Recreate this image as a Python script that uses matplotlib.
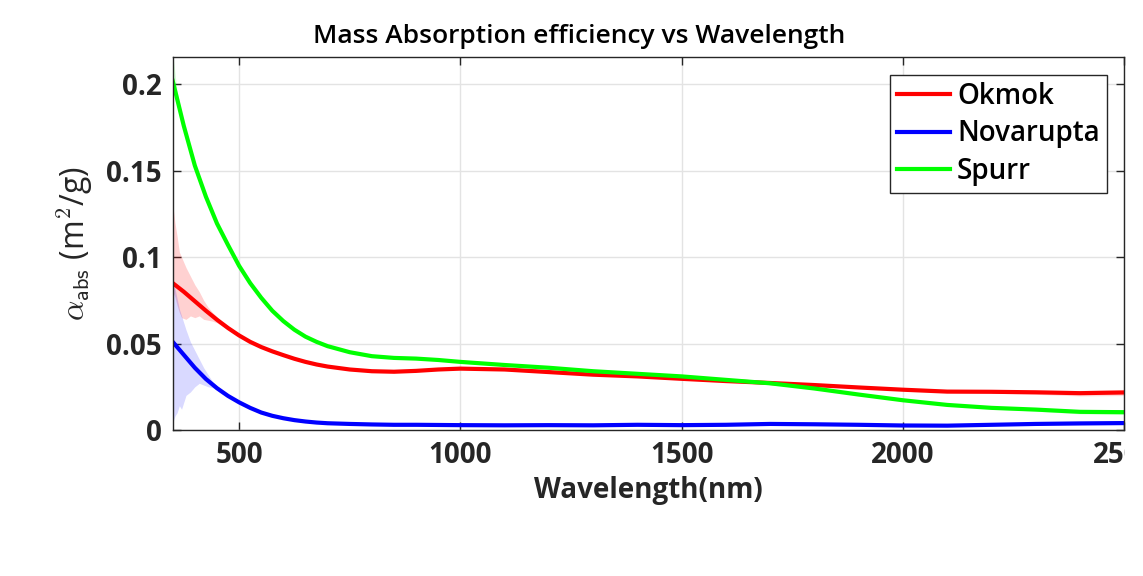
import numpy as np
import matplotlib as mpl
mpl.use('Agg')
from matplotlib import pyplot as plt
from matplotlib.transforms import Bbox

plt.rcParams['font.family'] = ['Open Sans', 'DejaVu Sans']
plt.rcParams['mathtext.fontset'] = 'cm'

# длина волны, нм
wl = [350, 375, 400, 425, 450, 475, 500, 525, 550, 575, 600, 625, 650, 675,
      700, 750, 800, 850, 900, 950, 1000, 1100, 1200, 1300, 1400, 1500, 1600,
      1700, 1800, 1900, 2000, 2100, 2200, 2300, 2400, 2500]

# массовая эффективность поглощения, м^2/г
okmok = [0.085, 0.080, 0.0745, 0.069, 0.0638, 0.059, 0.0547, 0.051, 0.048,
         0.0455, 0.0433, 0.0412, 0.0394, 0.0379, 0.0367, 0.035, 0.034, 0.0337,
         0.0342, 0.035, 0.0355, 0.035, 0.0335, 0.032, 0.031, 0.0296, 0.0283,
         0.0272, 0.026, 0.0246, 0.0233, 0.0222, 0.0221, 0.0218, 0.0213,
         0.0217]
novarupta = [0.051, 0.0435, 0.036, 0.0295, 0.0242, 0.0197, 0.016, 0.0128,
             0.0101, 0.0082, 0.0068, 0.0057, 0.0049, 0.0043, 0.0039, 0.0035,
             0.0032, 0.003, 0.003, 0.0029, 0.0028, 0.0027, 0.0028, 0.0027,
             0.003, 0.0028, 0.003, 0.0035, 0.0033, 0.003, 0.0026, 0.0025,
             0.003, 0.0035, 0.0038, 0.004]
spurr = [0.202, 0.176, 0.153, 0.135, 0.1195, 0.107, 0.095, 0.085, 0.0765,
         0.069, 0.063, 0.058, 0.054, 0.051, 0.0485, 0.045, 0.0427, 0.0417,
         0.0413, 0.0405, 0.0394, 0.0376, 0.036, 0.034, 0.0325, 0.031, 0.029,
         0.027, 0.024, 0.0205, 0.0172, 0.0145, 0.0128, 0.0118, 0.0105, 0.0103]

# разброс у коротких волн
band_wl = [350, 355, 360, 365, 370, 380, 390, 400, 410, 420, 430, 440, 450,
           460, 470, 480]
okmok_hi = [0.131, 0.120, 0.112, 0.103, 0.100, 0.094, 0.089, 0.084, 0.080,
            0.075, 0.071, 0.068, 0.0655, 0.063, 0.061, 0.0585]
okmok_lo = [0.080, 0.077, 0.072, 0.068, 0.065, 0.064, 0.066, 0.065, 0.066,
            0.064, 0.0635, 0.063, 0.062, 0.0605, 0.059, 0.0575]
nova_hi = [0.085, 0.082, 0.076, 0.070, 0.066, 0.058, 0.051, 0.046, 0.041,
           0.036, 0.032, 0.028, 0.0255, 0.023, 0.021, 0.0193]
nova_lo = [0.004, 0.008, 0.010, 0.014, 0.012, 0.020, 0.022, 0.025, 0.027,
           0.026, 0.025, 0.0245, 0.023, 0.021, 0.020, 0.0187]
spurr_band_wl = [350, 360, 370]
spurr_hi = [0.218, 0.196, 0.183]
spurr_lo = [0.198, 0.189, 0.180]

# разброс у длинных волн (полуширина)
tail_wl = [2200, 2300, 2400, 2500]
okmok_tail = [0.0008, 0.0012, 0.0016, 0.0018]
nova_tail = [0.0004, 0.0006, 0.0008, 0.0009]
spurr_tail = [0.0006, 0.0009, 0.0012, 0.0014]

names = ['Okmok', 'Novarupta', 'Spurr']
colors = ['#ff0000', '#0000ff', '#00ff00']

fig = plt.figure(figsize=(11.43, 5.76), dpi=100)
ax = fig.add_axes([0.1511, 0.2535, 0.8325, 0.6481])

series = [okmok, novarupta, spurr]
tails = [okmok_tail, nova_tail, spurr_tail]

ax.fill_between(band_wl, okmok_lo, okmok_hi, color=colors[0], alpha=0.18, lw=0)
ax.fill_between(band_wl, nova_lo, nova_hi, color=colors[1], alpha=0.15, lw=0)
ax.fill_between(spurr_band_wl, spurr_lo, spurr_hi, color=colors[2], alpha=0.15, lw=0)

for ys, tl, c in zip(series, tails, colors):
    yt = np.array(ys[-len(tl):])
    ax.fill_between(tail_wl, yt - np.array(tl), yt + np.array(tl),
                    color=c, alpha=0.15, lw=0)

for ys, c, n in zip(series, colors, names):
    ax.plot(wl, ys, color=c, lw=3, label=n, solid_joinstyle='round')

ax.set_xlim(350, 2500)
ax.set_ylim(0, 0.216)
ax.set_xticks([500, 1000, 1500, 2000, 2500])
ax.set_yticks([0, 0.05, 0.1, 0.15, 0.2])
ax.set_yticklabels(['0', '0.05', '0.1', '0.15', '0.2'])
ax.grid(True, color='#e3e3e3', lw=1)
ax.set_axisbelow(True)
ax.tick_params(direction='in', length=6, width=1, top=True, right=True,
               colors='#262626', labelsize=20, pad=8)
# подпись 2500 обрезается по правому краю рамки
clip = Bbox.from_extents(0, 0, 1125, 576)
for lab in ax.get_xticklabels() + ax.get_yticklabels():
    lab.set_fontweight('bold')
for lab in ax.get_xticklabels():
    lab.set_clip_box(clip)
    lab.set_clip_on(True)
for sp in ax.spines.values():
    sp.set_color('#262626')
    sp.set_linewidth(1)

ax.set_xlabel('Wavelength(nm)', fontsize=20, fontweight='bold',
              color='#262626', labelpad=4)
ax.set_ylabel(r'$\alpha_{\mathsf{abs}}$ (m$^{\mathsf{2}}$/g)', fontsize=23,
              color='#262626', labelpad=8)
ax.set_title('Mass Absorption efficiency vs Wavelength', x=0.427,
             fontsize=19, fontweight='semibold', pad=10)

leg = ax.legend(loc='upper right', bbox_to_anchor=(0.9815, 0.951),
                borderaxespad=0, fancybox=False, framealpha=1,
                edgecolor='#262626', handlelength=1.9,
                handletextpad=0.25, labelspacing=0.3, borderpad=0.25,
                prop={'size': 20, 'weight': 'semibold'})
leg.get_frame().set_linewidth(1)
for line in leg.get_lines():
    line.set_linewidth(3)

fig.savefig('out.png', dpi=100)
